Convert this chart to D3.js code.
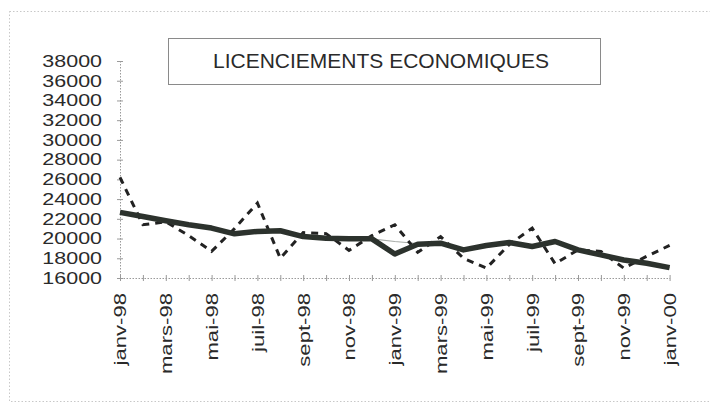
<!DOCTYPE html>
<html>
<head>
<meta charset="utf-8">
<script src="https://cdn.jsdelivr.net/npm/d3@7"></script>
<style>
  body { margin: 0; background: #fff; }
  svg { display: block; font-family: "Liberation Sans", Arial, sans-serif; }
</style>
</head>
<body>
<div id="chart"></div>
<script>
// months, janv-98 .. janv-00
const months = ["janv-98", "févr-98", "mars-98", "avr-98", "mai-98", "juin-98", "juil-98", "août-98",
  "sept-98", "oct-98", "nov-98", "déc-98", "janv-99", "févr-99", "mars-99", "avr-99", "mai-99",
  "juin-99", "juil-99", "août-99", "sept-99", "oct-99", "nov-99", "déc-99", "janv-00"]

// raw monthly series (dashed)
const brut = [26200, 21400, 21700, 20300, 18700, 21000, 23600, 18000, 20600, 20500, 18800, 20300,
  21400, 18600, 20200, 18000, 17000, 19400, 21050, 17450, 18850, 18700, 17000, 18200, 19300]

// smoothed series (thick)
const lisse = [22650, 22240, 21800, 21400, 21060, 20480, 20720, 20790, 20200, 20040, 19970, 19970,
  18440, 19430, 19530, 18850, 19290, 19600, 19190, 19700, 18850, 18340, 17830, 17500, 17050]

// thin grey trend, mostly hidden under the thick line
const tendance = [22650, 22240, 21800, 21400, 21060, 20480, 20720, 20790, 20200, 20040, 19970, 19970,
  19700, 19500, 19530, 18850, 19290, 19600, 19190, 19700, 18850, 18340, 17830, 17500, 17050]

const yTicks = d3.range(16000, 38001, 2000)
const title = "LICENCIEMENTS ECONOMIQUES"

const width = 710
const height = 403

const dimensions = {
  left: 120,
  right: 669.6,
  top: 61,
  bottom: 278,
}

const svg = d3.select('#chart')
  .append('svg')
  .attr('width', width)
  .attr('height', height)

// dotted frame around the chart area
svg.append('rect')
  .attr('x', 9.5)
  .attr('y', 11.5)
  .attr('width', 720)
  .attr('height', 390)
  .attr('fill', 'none')
  .attr('stroke', '#c8c8c8')
  .attr('stroke-dasharray', '1.5,2')

// title box
svg.append('rect')
  .attr('x', 168.5)
  .attr('y', 38.5)
  .attr('width', 432)
  .attr('height', 46)
  .attr('fill', '#fff')
  .attr('stroke', '#8a8a8a')

svg.append('text')
  .attr('x', 381)
  .attr('y', 68)
  .attr('text-anchor', 'middle')
  .attr('fill', '#2a2a2a')
  .style('font-size', '21px')
  .text(title)

const xScale = d3.scalePoint()
  .domain(d3.range(months.length))
  .range([dimensions.left, dimensions.right])

const yScale = d3.scaleLinear()
  .domain([16000, 38000])
  .range([dimensions.bottom, dimensions.top])

// stretch tick labels a bit, the scanned font is wide
function widen(sel, k) {
  sel.each(function () {
    const len = this.getComputedTextLength()
    if (len > 0) {
      d3.select(this)
        .attr('textLength', len * k)
        .attr('lengthAdjust', 'spacingAndGlyphs')
    }
  })
}

const yAxis = d3.axisLeft(yScale)
  .tickValues(yTicks)
  .tickSizeInner(3)
  .tickSizeOuter(0)
  .tickPadding(15)
  .tickFormat(d3.format('d'))

const gY = svg.append('g')
  .attr('transform', `translate(${dimensions.left},0)`)
  .call(yAxis)

gY.select('.domain')
  .attr('stroke', '#9a9a9a')
  .attr('stroke-dasharray', '1.5,1.5')
gY.selectAll('.tick line')
  .attr('stroke', '#9a9a9a')
  .attr('x2', 3)
  .attr('x1', -3)
gY.selectAll('.tick text')
  .attr('fill', '#2a2a2a')
  .style('font-size', '16.5px')
  .call(widen, 1.3)

const xAxis = d3.axisBottom(xScale)
  .tickSizeInner(3)
  .tickSizeOuter(0)
  .tickFormat(i => i % 2 === 0 ? months[i] : '')

const gX = svg.append('g')
  .attr('transform', `translate(0,${dimensions.bottom})`)
  .call(xAxis)

gX.select('.domain')
  .attr('stroke', '#9a9a9a')
  .attr('stroke-dasharray', '1.5,1.5')
gX.selectAll('.tick line')
  .attr('stroke', '#9a9a9a')
  .attr('y1', -3)
  .attr('y2', 3)
gX.selectAll('.tick text')
  .attr('fill', '#2a2a2a')
  .style('font-size', '17px')
  .style('text-anchor', 'end')
  .attr('transform', 'rotate(-90)')
  .attr('x', -15)
  .attr('y', 0)
  .attr('dy', '0.35em')
  .call(widen, 1.3)

const line = d3.line()
  .x((d, i) => xScale(i))
  .y(d => yScale(d))

svg.append('path')
  .attr('d', line(tendance))
  .attr('fill', 'none')
  .attr('stroke', '#a8aca8')
  .attr('stroke-width', 1.2)

svg.append('path')
  .attr('d', line(brut))
  .attr('fill', 'none')
  .attr('stroke', '#222')
  .attr('stroke-width', 3)
  .attr('stroke-dasharray', '7,6')

svg.append('path')
  .attr('d', line(lisse))
  .attr('fill', 'none')
  .attr('stroke', '#2c322d')
  .attr('stroke-width', 5.5)
  .attr('stroke-linejoin', 'round')
</script>
</body>
</html>
